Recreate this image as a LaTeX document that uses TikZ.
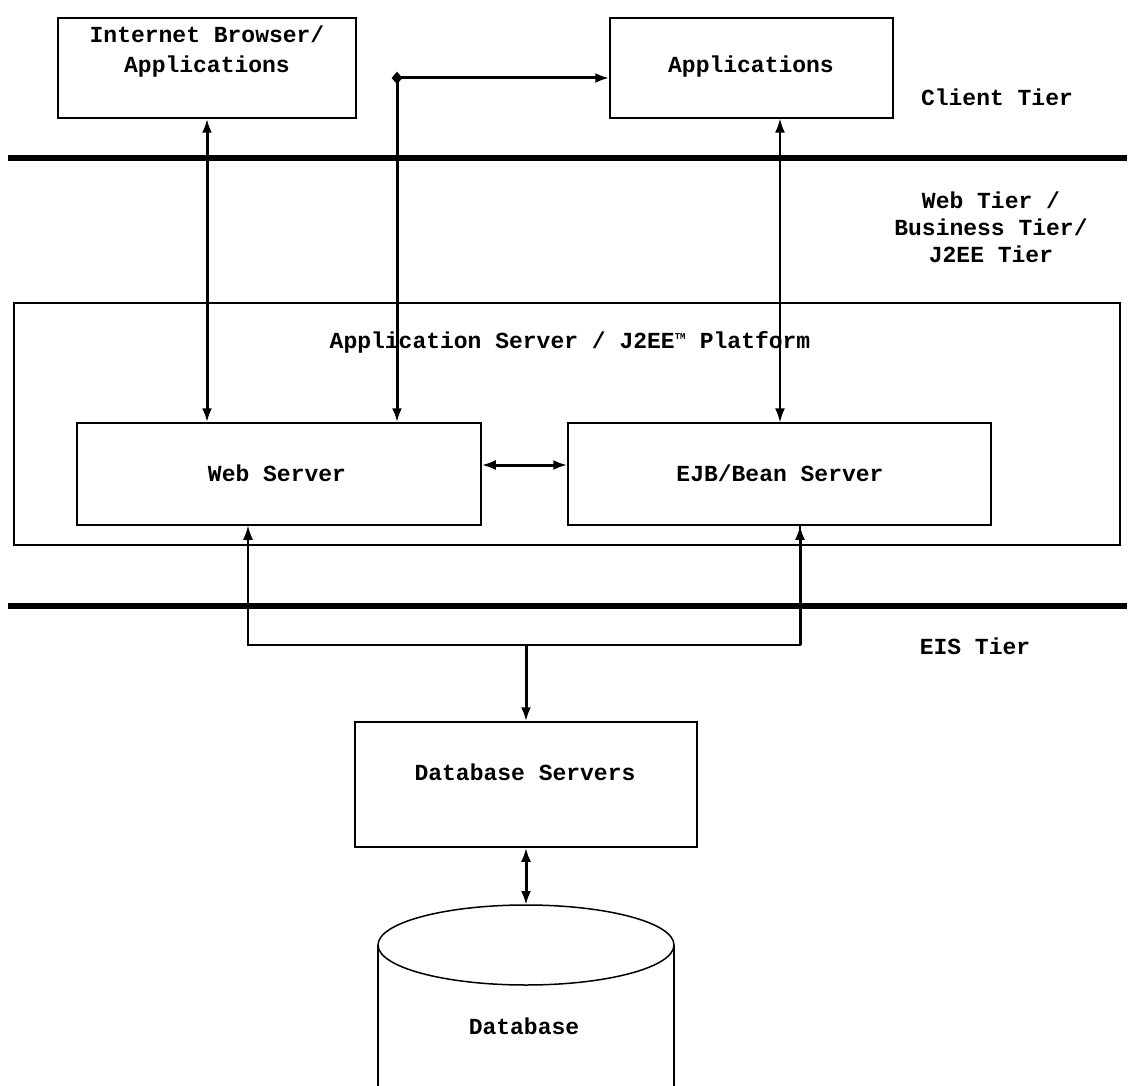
\documentclass[tikz,border=0pt]{standalone}
\usepackage{fontspec}
\setmainfont{Liberation Mono}
\usetikzlibrary{positioning, arrows.meta, shapes.geometric}
\tikzset{every picture/.append style={thick}}
\tikzset{
  box/.style={draw, line width=1.5pt, inner sep=0pt},
  lbl/.style={font=\fontsize{23}{29}\selectfont\bfseries, align=center, inner sep=0pt},
  tier/.style={line width=5.5pt},
  link/.style={line width=3pt},
  thinlink/.style={line width=1.5pt}
}

\begin{document}
\begin{tikzpicture}[x=1pt, y=-1pt, >={Latex[length=14pt,width=10pt]}]
        \useasboundingbox (0,0) rectangle (1133,1086);

        % Client tier boxes
        \node[box, minimum width=298pt, minimum height=100pt] (browser) at (207,68) {};
        \node[box, minimum width=283pt, minimum height=100pt] (apps) at (751.5,68) {};
        \node[lbl, font=\fontsize{23}{30}\selectfont\bfseries] (browsertxt) at (207,52) {Internet Browser/\\Applications};
        \node[lbl] (appstxt) at (751,67) {Applications};

        % Tier separators and labels
        \draw[tier] (8,158) -- (1127,158);
        \draw[tier] (8,606) -- (1127,606);
        \node[lbl] (client) at (997,97) {Client Tier};
        \node[lbl, font=\fontsize{23}{27}\selectfont\bfseries] (webtier) at (991,227) {Web Tier /\\Business Tier/\\J2EE Tier};
        \node[lbl] (eis) at (975,646) {EIS Tier};

        % Application server with its two servers
        \node[box, minimum width=1106pt, minimum height=242pt] (appserver) at (567,424) {};
        \node[lbl] (appservertxt) at (570,342) {Application Server / J2EE\textsuperscript{\fontsize{9}{9}\selectfont TM} Platform};
        \node[box, minimum width=404pt, minimum height=102pt] (web) at (279,474) {};
        \node[box, minimum width=423pt, minimum height=102pt] (ejb) at (779.5,474) {};
        \node[lbl] (webtxt) at (277,473) {Web Server};
        \node[lbl] (ejbtxt) at (780,473) {EJB/Bean Server};

        % Database side
        \node[box, minimum width=342pt, minimum height=125pt] (dbserv) at (526,784.5) {};
        \node[lbl] (dbservtxt) at (525,772) {Database Servers};
        \coordinate (dbtop) at (526,905);
        \draw[line width=1.5pt] (526,945) ellipse [x radius=148, y radius=40];
        \draw[line width=1.5pt] (378,945) -- (378,1086);
        \draw[line width=1.5pt] (674,945) -- (674,1086);
        \node[lbl] (dbtxt) at (524,1026) {Database};

        % Connectors
        \coordinate (split) at (397,78);
        \coordinate (bus) at (526,645);
        \coordinate (wsdown) at ([xshift=-31pt]web.south);
        \coordinate (esdown) at ([xshift=20.5pt]ejb.south);
        \coordinate (ejbup) at ([xshift=28.5pt]apps.south);
        \draw[link, <->] (browser.south) -- (browser.south |- web.north);
        \draw[link, <->] (web.north -| split) -- (split) -- (apps.west |- split);
        \node[diamond, fill, inner sep=0pt, minimum width=11pt, minimum height=13pt] (splitmark) at (split) {};
        \draw[thinlink, <->] (ejbup) -- (ejbup |- ejb.north);
        \draw[link, <->] ([yshift=9pt]web.east) -- ([yshift=9pt]ejb.west);
        \draw[thinlink, <-] (wsdown) |- (bus) -| (esdown);
        \draw[link, ->] (esdown |- bus) -- (esdown);
        \draw[link, ->] (bus) -- (dbserv.north);
        \draw[link, <->] (dbserv.south) -- (dbtop);
\end{tikzpicture}
\end{document}
